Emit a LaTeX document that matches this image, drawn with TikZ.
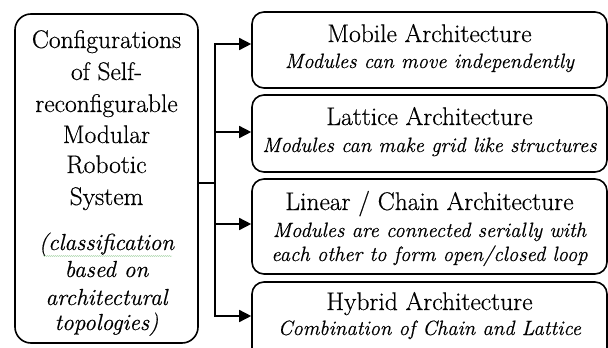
\documentclass[tikz,border=0pt]{standalone}
\usepackage{fontspec}
\setmainfont{Latin Modern Roman}[FakeBold=0.5]
\usetikzlibrary{arrows.meta,decorations.pathmorphing}
\begin{document}
\begin{tikzpicture}[x=1pt,y=-1pt,
  box/.style={draw, line width=1.6pt, rounded corners=12pt, inner sep=0pt},
  lbox/.style={box, rounded corners=16pt},
  ttl/.style={anchor=base, inner sep=0pt, font=\fontsize{25.5}{30}\selectfont},
  sub/.style={anchor=base, inner sep=0pt, font=\fontsize{20.7}{25}\selectfont\itshape},
  lit/.style={anchor=base, inner sep=0pt, font=\fontsize{23.2}{27}\selectfont\itshape},
  conn/.style={line width=1.5pt},
  arr/.style={conn, -{Triangle[length=12pt,width=12pt]}},
  squig/.style={draw=green!50!black!40, line width=0.45pt, decorate, decoration={snake, amplitude=0.5pt, segment length=2pt}}
]
\useasboundingbox (0,0) rectangle (608,348);
\clip (0,0) rectangle (608,348);

% boxes
\node[lbox, minimum width=183pt, minimum height=329pt] (L) at (106.5,178.5) {};
\node[box, minimum width=355pt, minimum height=76pt] (M) at (429.5,50) {};
\node[box, minimum width=355pt, minimum height=77pt] (La) at (429.5,133.5) {};
\node[box, minimum width=355pt, minimum height=95pt] (Li) at (429.5,226.5) {};
\node[box, minimum width=355pt, minimum height=78pt] (H) at (429.5,321) {};

% left text
\node[ttl] (l1) at (106.5,48) {Configurations};
\node[ttl] (l2) at (106.5,80) {of Self-};
\node[ttl] (l3) at (106.5,112) {reconfigurable};
\node[ttl] (l4) at (106.5,143) {Modular};
\node[ttl] (l5) at (106.5,173) {Robotic};
\node[ttl] (l6) at (106.5,205) {System};
\node[lit] (l7) at (106.5,250) {(classification};
\node[lit] (l8) at (106.5,277) {based on};
\node[lit] (l9) at (106.5,305) {architectural};
\node[lit] (l10) at (106.5,330) {topologies)};
\draw[squig] (43,256) -- (172,256);

% right text
\node[ttl] (m1) at (429.5,42) {Mobile Architecture};
\node[sub] (m2) at (429.5,68) {Modules can move independently};
\node[ttl] (a1t) at (429.5,125) {Lattice Architecture};
\node[sub] (a2t) at (429.5,152) {Modules can make grid like structures};
\node[ttl] (c1) at (429.5,210) {Linear / Chain Architecture};
\node[sub] (c2) at (429.5,237) {Modules are connected serially with};
\node[sub] (c3) at (429.5,261) {each other to form open/closed loop};
\node[ttl] (h1) at (429.5,310) {Hybrid Architecture};
\node[sub] (h2) at (429.5,335) {Combination of Chain and Lattice};

% connectors
\coordinate (J) at (215,183);
\coordinate (p1) at (215,44);
\coordinate (p2) at (215,132);
\coordinate (p3) at (215,224);
\coordinate (p4) at (215,316);
\draw[conn] (L.east |- J) -- (J);
\draw[arr] (J) -- (p1) -- (p1 -| M.west);
\draw[arr] (p2) -- (p2 -| La.west);
\draw[arr] (p3) -- (p3 -| Li.west);
\draw[arr] (J) -- (p4) -- (p4 -| H.west);
\end{tikzpicture}
\end{document}
